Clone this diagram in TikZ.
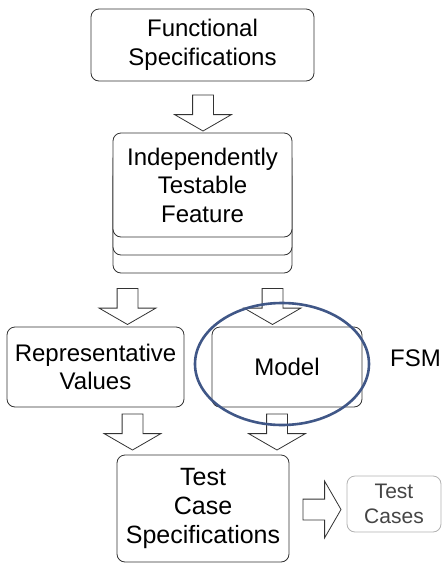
\documentclass[tikz,border=0pt]{standalone}
\usepackage{fontspec}
\setmainfont{Liberation Sans}
\usetikzlibrary{shapes.arrows,shapes.geometric}
\definecolor{FrameClr}{rgb}{0.2,0.2,0.2}
\definecolor{RingClr}{rgb}{0.25,0.34,0.53}
\definecolor{OutClr}{rgb}{0.27,0.27,0.27}
\definecolor{OutFrameClr}{rgb}{0.7,0.7,0.7}

\begin{document}
\begin{tikzpicture}[x=1pt,y=-1pt,
  box/.style={draw=FrameClr,line width=0.8pt,rounded corners=8pt,fill=white,
    align=center,inner sep=0pt,font=\fontsize{24}{28.5}\selectfont},
  blockarrow/.style={draw=FrameClr,line width=0.8pt,fill=white,shape=single arrow,
    single arrow head extend=18pt,single arrow tip angle=120,
    single arrow head indent=0pt,inner xsep=0pt,inner ysep=10pt,minimum height=36pt},
  down/.style={rotate=-90}]
\useasboundingbox (0,0) rectangle (446,574);

\node[box,minimum width=223pt,minimum height=72pt] (fs) at (202.5,45) {Functional\\Specifications};

\foreach \k in {2,1}
  \node[box,minimum width=179pt,minimum height=104pt] (itf\k) at (202.5,185+18*\k) {};
\node[box,minimum width=179pt,minimum height=104pt] (itf) at (202.5,185) {Independently\\Testable\\Feature};

\node[box,minimum width=177pt,minimum height=80pt] (rv) at (95.5,367) {Representative\\Values};
\node[box,minimum width=150pt,minimum height=80pt] (model) at (287,367) {Model};
\node[box,minimum width=172pt,minimum height=107pt,font=\fontsize{25}{29}\selectfont] (tcs) at (203,508.5) {Test\\Case\\Specifications};
\node[box,draw=OutFrameClr,text=OutClr,minimum width=94pt,minimum height=56pt,
  font=\fontsize{21}{25}\selectfont] (tc) at (394,504) {Test\\Cases};

\node[blockarrow,down] (fs2itf) at (203,110) {};
\node[blockarrow,down] (itf2rv) at (127.5,303.5) {};
\node[blockarrow,down] (itf2model) at (272.5,303.5) {};
\node[blockarrow,down] (rv2tcs) at (132.5,429) {};
\node[blockarrow,down] (model2tcs) at (277,429) {};
\node[blockarrow,minimum height=38pt] (tcs2tc) at (319,509.5) {};

\node[draw=RingClr,line width=2.6pt,ellipse,minimum width=174pt,minimum height=122pt,inner sep=0pt] (ring) at (282,364) {};
\node[anchor=west,inner sep=0pt,font=\fontsize{24}{28.5}\selectfont] (fsm) at (390,358.5) {FSM};

\end{tikzpicture}
\end{document}
